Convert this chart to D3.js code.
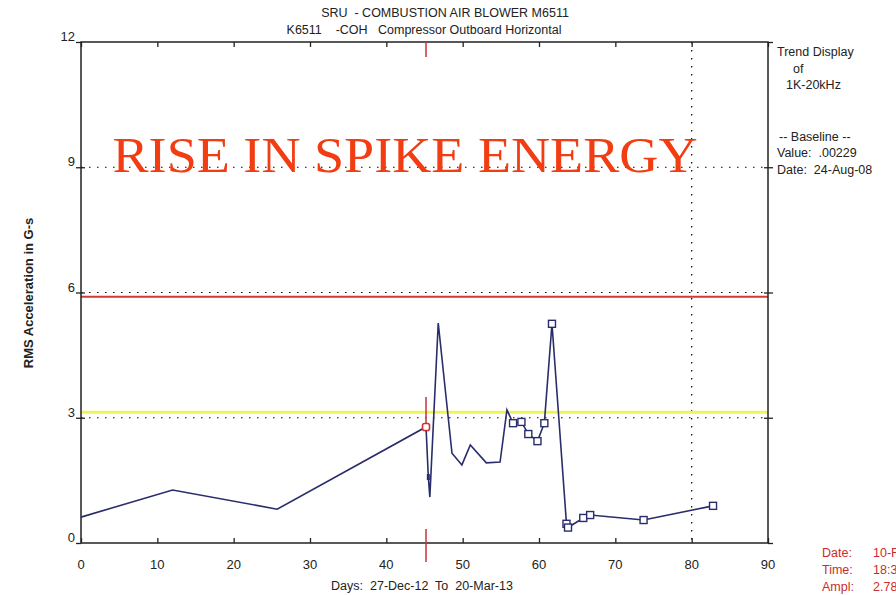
<!DOCTYPE html>
<html>
<head>
<meta charset="utf-8">
<script src="https://cdn.jsdelivr.net/npm/d3@7"></script>
<style>
  body { margin: 0; background: #fff; }
  text { font-family: "Liberation Sans", Arial, sans-serif; }
</style>
</head>
<body>
<svg id="chart" width="896" height="595"></svg>
<script>
// trend data (days since 27-Dec-12, RMS G-s)
var days   = [0, 12, 25.7, 45.2, 45.5, 45.7, 46.8, 48.6, 49.9, 51.0, 53.1, 54.9, 55.8, 56.6, 57.7, 58.6, 59.8, 60.7, 61.7, 63.6, 63.8, 65.8, 66.7, 73.7, 82.8];
var values = [0.62, 1.27, 0.81, 2.78, 1.58, 1.1, 5.27, 2.15, 1.87, 2.35, 1.92, 1.94, 3.19, 2.87, 2.9, 2.61, 2.44, 2.87, 5.25, 0.46, 0.37, 0.6, 0.67, 0.55, 0.89];
var squareFrom = 13; // points from this index on carry a square marker
var xTicks = [0, 10, 20, 30, 40, 50, 60, 70, 80, 90];
var yTicks = [0, 3, 6, 9, 12];
var gridLevels = [3, 6, 9];
var alarmHigh = 5.9, alarmLow = 3.13;
var cursorDay = 45.2, markDay = 80;

var svg = d3.select('#chart');
var m = {left: 81, right: 768, top: 42, bottom: 543};

var x = d3.scaleLinear().domain([0, 90]).range([m.left, m.right]);
var y = d3.scaleLinear().domain([0, 12]).range([m.bottom, m.top]);

// dotted grid at 3, 6, 9 and the day-80 marker
svg.selectAll('.hgrid').data(gridLevels).enter().append('line')
  .attr('x1', m.left).attr('x2', m.right)
  .attr('y1', d => y(d)).attr('y2', d => y(d))
  .attr('stroke', '#000').attr('stroke-width', 1.2)
  .attr('stroke-dasharray', '1.5,6.5');
svg.append('line')
  .attr('x1', x(markDay)).attr('x2', x(markDay))
  .attr('y1', m.top).attr('y2', m.bottom)
  .attr('stroke', '#000').attr('stroke-width', 1.2)
  .attr('stroke-dasharray', '1.5,6.5');

// alarm lines
svg.append('line').attr('x1', m.left).attr('x2', m.right)
  .attr('y1', y(alarmHigh)).attr('y2', y(alarmHigh))
  .attr('stroke', '#d03a3a').attr('stroke-width', 2);
svg.append('line').attr('x1', m.left).attr('x2', m.right)
  .attr('y1', y(alarmLow)).attr('y2', y(alarmLow))
  .attr('stroke', '#f2f25a').attr('stroke-width', 3);

// frame + tick marks
var noLabel = () => '';
svg.append('g').attr('transform', 'translate(0,' + m.bottom + ')')
  .call(d3.axisTop(x).tickValues(xTicks).tickSize(5).tickFormat(noLabel));
svg.append('g').attr('transform', 'translate(0,' + m.top + ')')
  .call(d3.axisBottom(x).tickValues(xTicks).tickSize(5).tickFormat(noLabel));
svg.append('g').attr('transform', 'translate(' + m.left + ',0)')
  .call(d3.axisLeft(y).tickValues(yTicks).tickSize(5).tickFormat(noLabel));
svg.append('g').attr('transform', 'translate(' + m.left + ',0)')
  .call(d3.axisRight(y).tickValues(gridLevels).tickSize(4).tickFormat(noLabel));
svg.append('g').attr('transform', 'translate(' + m.right + ',0)')
  .call(d3.axisRight(y).tickValues(yTicks).tickSize(5).tickFormat(noLabel));
svg.append('g').attr('transform', 'translate(' + m.right + ',0)')
  .call(d3.axisLeft(y).tickValues(gridLevels).tickSize(4).tickFormat(noLabel));
svg.selectAll('.domain').remove();
svg.selectAll('.tick line').attr('stroke', '#222').attr('stroke-width', 1.3);
svg.append('rect').attr('x', m.left).attr('y', m.top)
  .attr('width', m.right - m.left).attr('height', m.bottom - m.top)
  .attr('fill', 'none').attr('stroke', '#222').attr('stroke-width', 1.5);

// tick labels
svg.selectAll('.xl').data(xTicks).enter().append('text')
  .attr('x', d => x(d)).attr('y', 569)
  .attr('text-anchor', 'middle').attr('font-size', 13).attr('fill', '#222')
  .text(d => d);
svg.selectAll('.yl').data(yTicks).enter().append('text')
  .attr('x', 75).attr('y', d => y(d) - 1)
  .attr('text-anchor', 'end').attr('font-size', 13).attr('fill', '#222')
  .text(d => d);

// cursor marks
var cursorSegs = [[m.top, m.top + 15], [397, 432], [529, 562]];
svg.selectAll('.cur').data(cursorSegs).enter().append('line')
  .attr('x1', x(cursorDay)).attr('x2', x(cursorDay))
  .attr('y1', d => d[0]).attr('y2', d => d[1])
  .attr('stroke', '#c8323c').attr('stroke-width', 1.5);

// trend line
var pts = days.map((d, i) => [d, values[i]]);
svg.append('path').datum(pts)
  .attr('d', d3.line().x(d => x(d[0])).y(d => y(d[1])))
  .attr('fill', 'none').attr('stroke', '#2a2d6b').attr('stroke-width', 1.6);

svg.selectAll('.sq').data(pts.slice(squareFrom)).enter().append('rect')
  .attr('x', d => x(d[0]) - 3.5).attr('y', d => y(d[1]) - 3.5)
  .attr('width', 7).attr('height', 7)
  .attr('fill', '#fff').attr('stroke', '#2a2d6b').attr('stroke-width', 1.4);
svg.append('rect')
  .attr('x', x(days[3]) - 3.5).attr('y', y(values[3]) - 3.5)
  .attr('width', 7).attr('height', 7).attr('rx', 2)
  .attr('fill', '#fff').attr('stroke', '#d0303a').attr('stroke-width', 1.6);
svg.append('rect')
  .attr('x', x(days[4]) - 1.5).attr('y', y(values[4]) - 3)
  .attr('width', 3).attr('height', 6).attr('fill', '#2a2d6b');

// titles
svg.append('text').attr('x', 445).attr('y', 17).attr('text-anchor', 'middle')
  .attr('font-size', 12.5).attr('fill', '#222').attr('xml:space', 'preserve')
  .text('SRU  - COMBUSTION AIR BLOWER M6511');
svg.append('text').attr('x', 424).attr('y', 34).attr('text-anchor', 'middle')
  .attr('font-size', 12.5).attr('fill', '#222').attr('xml:space', 'preserve')
  .text('K6511    -COH   Compressor Outboard Horizontal');

svg.append('text').attr('transform', 'translate(33,293) rotate(-90)')
  .attr('text-anchor', 'middle').attr('font-size', 13).attr('font-weight', 'bold')
  .attr('fill', '#222').text('RMS Acceleration in G-s');
svg.append('text').attr('x', 422).attr('y', 590).attr('text-anchor', 'middle')
  .attr('font-size', 12.5).attr('fill', '#222').attr('xml:space', 'preserve')
  .text('Days:  27-Dec-12  To  20-Mar-13');

// side notes
var side = [
  ['Trend Display', 777, 56], ['of', 793, 73], ['1K-20kHz', 786, 89],
  ['-- Baseline --', 779, 141], ['Value:  .00229', 777, 157], ['Date:  24-Aug-08', 777, 174]
];
svg.selectAll('.side').data(side).enter().append('text')
  .attr('x', d => d[1]).attr('y', d => d[2])
  .attr('font-size', 12.5).attr('fill', '#222').attr('xml:space', 'preserve')
  .text(d => d[0]);

var cursorInfo = [['Date:', '10-Feb-13', 557], ['Time:', '18:32', 574], ['Ampl:', '2.78', 591]];
var ci = svg.selectAll('.ci').data(cursorInfo).enter().append('g');
ci.append('text').attr('x', 822).attr('y', d => d[2])
  .attr('font-size', 12.5).attr('fill', '#cc2b2b').text(d => d[0]);
ci.append('text').attr('x', 873).attr('y', d => d[2])
  .attr('font-size', 12.5).attr('fill', '#cc2b2b').text(d => d[1]);

// annotation
svg.append('text').attr('x', 405).attr('y', 172).attr('text-anchor', 'middle')
  .style('font-family', '"Liberation Serif", "DejaVu Serif", serif')
  .attr('font-size', 50).attr('fill', '#f23c12')
  .attr('textLength', 585).attr('lengthAdjust', 'spacingAndGlyphs')
  .text('RISE IN SPIKE ENERGY');
</script>
</body>
</html>
